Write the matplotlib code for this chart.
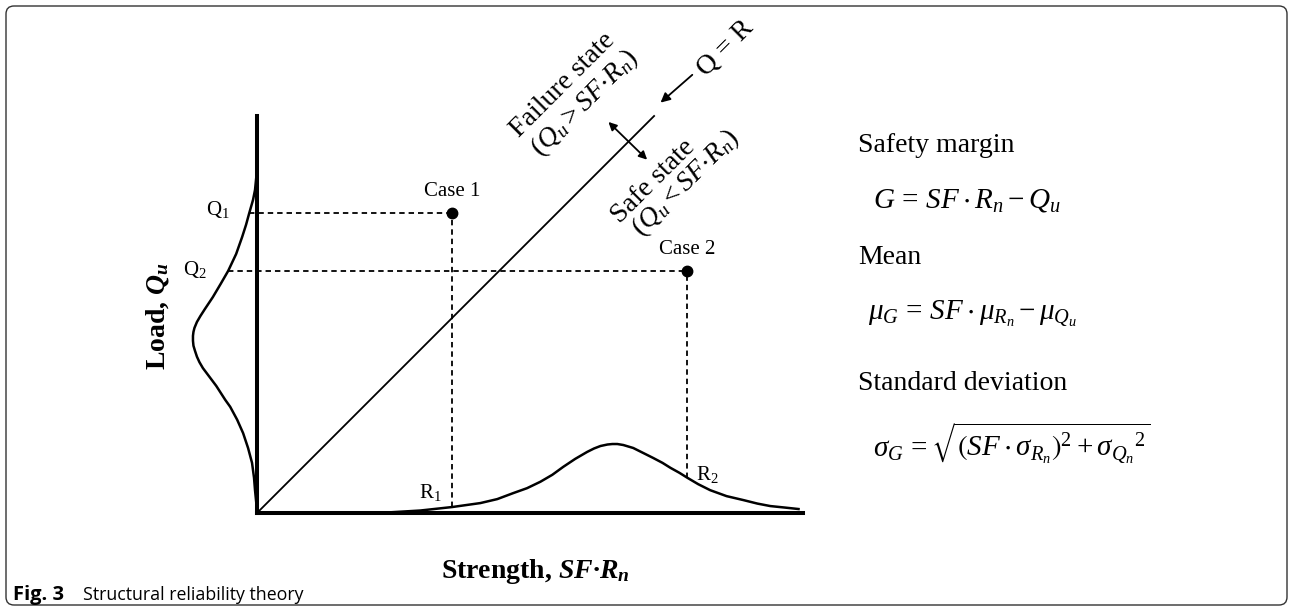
import numpy as np
import matplotlib
matplotlib.use("Agg")
import matplotlib.pyplot as plt
from matplotlib.patches import FancyBboxPatch

plt.rcParams['font.family'] = ['Liberation Serif', 'DejaVu Serif']
plt.rcParams['mathtext.fontset'] = 'custom'
plt.rcParams['mathtext.rm'] = 'Liberation Serif'
plt.rcParams['mathtext.it'] = 'Liberation Serif:italic'
plt.rcParams['mathtext.bf'] = 'Liberation Serif:bold'
plt.rcParams['mathtext.bfit'] = 'Liberation Serif:italic:bold'
plt.rcParams['mathtext.fallback'] = 'stix'

# Load distribution, drawn sideways to the left of the load axis
load_levels = [7.06, 6.81, 6.51, 6.31, 6.03, 5.81, 5.56, 5.22, 4.88, 4.62, 4.35,
               4.11, 3.97, 3.85, 3.73, 3.65, 3.57, 3.47, 3.37, 3.27, 3.15, 3.04,
               2.92, 2.80, 2.68, 2.56, 2.42, 2.28, 2.14, 1.88, 1.61, 1.31, 1.01,
               0.71, 0.46, 0.16, 0.0]
load_pdf = [0.0, 0.01, 0.04, 0.08, 0.16, 0.22, 0.30, 0.42, 0.58, 0.73, 0.89,
            1.05, 1.14, 1.21, 1.26, 1.28, 1.29, 1.29, 1.28, 1.25, 1.21, 1.16,
            1.09, 1.00, 0.91, 0.82, 0.73, 0.64, 0.54, 0.40, 0.28, 0.18, 0.10,
            0.06, 0.04, 0.01, 0.0]

# Strength distribution along the strength axis
strength_levels = [2.08, 2.62, 3.29, 3.93, 4.50, 4.84, 5.16, 5.44, 5.71, 5.95,
                   6.17, 6.41, 6.65, 6.79, 6.92, 7.06, 7.16, 7.26, 7.38, 7.48,
                   7.58, 7.78, 7.98, 8.17, 8.33, 8.51, 8.67, 8.89, 9.13, 9.46,
                   9.80, 10.08, 10.34, 10.63, 10.91]
strength_pdf = [0.0, 0.01, 0.05, 0.12, 0.20, 0.28, 0.40, 0.50, 0.63, 0.77,
                0.93, 1.09, 1.23, 1.30, 1.35, 1.38, 1.39, 1.39, 1.37, 1.34,
                1.31, 1.21, 1.11, 1.01, 0.91, 0.81, 0.71, 0.58, 0.46, 0.34,
                0.26, 0.19, 0.14, 0.11, 0.08]

# Two design cases (strength, load)
case_names = ['Case 1', 'Case 2']
case_R = [3.93, 8.67]
case_Q = [6.05, 4.88]
R_labels = ['R$_1$', 'R$_2$']
Q_labels = ['Q$_1$', 'Q$_2$']

limit_state = [0, 8]   # Q = R line end points

fig = plt.figure(figsize=(12.9, 6.08), dpi=100)
ax = fig.add_axes([257 / 1290, 95 / 608, 546 / 1290, 397 / 608])
ax.set_xlim(0, 11)
ax.set_ylim(0, 8)
for side in ['top', 'right']:
    ax.spines[side].set_visible(False)
for side in ['left', 'bottom']:
    ax.spines[side].set_linewidth(2.9)
ax.set_xticks([])
ax.set_yticks([])

# distributions
ax.plot(-np.array(load_pdf), load_levels, color='black', lw=1.8, clip_on=False,
        solid_joinstyle='round')
ax.plot(strength_levels, strength_pdf, color='black', lw=1.8, clip_on=False,
        solid_joinstyle='round')

# limit state line
ax.plot(limit_state, limit_state, color='black', lw=1.3, clip_on=False)

# case points with projections to both axes
q_top = load_levels[::-1]
q_pdf = load_pdf[::-1]
for name, r, q in zip(case_names, case_R, case_Q):
    q_start = -np.interp(q, q_top, q_pdf)
    r_start = np.interp(r, strength_levels, strength_pdf)
    ax.plot([q_start, r], [q, q], color='black', lw=1.3, ls=(0, (3, 2.2)),
            clip_on=False)
    ax.plot([r, r], [r_start, q], color='black', lw=1.3, ls=(0, (3, 2.2)),
            clip_on=False)
    ax.plot(r, q, 'o', color='black', ms=7.5, clip_on=False)
    ax.text(r, q + 0.42, name, ha='center', va='center', fontsize=15)

ax.text(3.49, 0.42, R_labels[0], ha='center', va='center', fontsize=15)
ax.text(9.07, 0.77, R_labels[1], ha='center', va='center', fontsize=15)
ax.text(-0.79, 6.11, Q_labels[0], ha='center', va='center', fontsize=15)
ax.text(-1.25, 4.90, Q_labels[1], ha='center', va='center', fontsize=15)

# region labels along the limit state line
rot = dict(rotation=45, rotation_mode='anchor', ha='center', va='center',
           fontsize=20)
ax.text(6.15, 8.62, 'Failure state', **rot)
ax.text(6.60, 8.26, r'$(Q_u > SF{\cdot}R_n)$', **rot)
ax.text(7.98, 6.69, 'Safe state', **rot)
ax.text(8.63, 6.64, r'$(Q_u < SF{\cdot}R_n)$', **rot)
ax.text(9.45, 9.36, 'Q = R', **rot)

ax.annotate('', xy=(8.13, 8.27), xytext=(8.77, 8.83), annotation_clip=False,
            arrowprops=dict(arrowstyle='-|>', color='black', lw=1.3,
                            mutation_scale=14, shrinkA=0, shrinkB=0))
ax.annotate('', xy=(7.86, 7.12), xytext=(7.08, 7.88), annotation_clip=False,
            arrowprops=dict(arrowstyle='<|-|>', color='black', lw=1.3,
                            mutation_scale=12, shrinkA=0, shrinkB=0))

# axis titles
ax.text(-2.0, 3.97, r'Load, $\mathbfit{Q_u}$', rotation=90, ha='center',
        va='center', fontsize=20, fontweight='bold')
ax.text(5.6, -1.18, 'Strength, $\\mathbfit{SF\u00b7R_n}$', ha='center',
        va='center', fontsize=20, fontweight='bold')

# reliability formulas
fx = 858 / 1290
eq_x = 873 / 1290
fig.text(fx, 1 - 145 / 608, 'Safety margin', fontsize=20, va='center')
fig.text(eq_x, 1 - 200 / 608, r'$G\,=\,SF\cdot R_n - Q_u$', fontsize=21,
         va='center')
fig.text(fx, 1 - 257 / 608, 'Mean', fontsize=20, va='center')
fig.text(868 / 1290, 1 - 313 / 608,
         r'$\mu_G\,=\,SF\cdot \mu_{R_n} - \mu_{Q_u}$', fontsize=21,
         va='center')
fig.text(fx, 1 - 383 / 608, 'Standard deviation', fontsize=20, va='center')
fig.text(eq_x, 1 - 443 / 608,
         r'$\sigma_G\,=\sqrt{\left(SF\cdot \sigma_{R_n}\right)^2 + {\sigma_{Q_n}}^2}$',
         fontsize=21, va='center')

# caption and frame
fig.text(13 / 1290, 1 - 595 / 608, 'Fig. 3', fontsize=14.5, fontweight='bold',
         family='Open Sans', va='center')
fig.text(83 / 1290, 1 - 595 / 608, 'Structural reliability theory',
         fontsize=12.8, family='Open Sans', va='center')
frame = FancyBboxPatch((0.06, 0.03), 12.81, 5.99,
                       boxstyle='round,pad=0,rounding_size=0.08',
                       transform=fig.dpi_scale_trans, fc='none', ec='#333333',
                       lw=1.0)
fig.add_artist(frame)

fig.savefig('out.png', dpi=100)
